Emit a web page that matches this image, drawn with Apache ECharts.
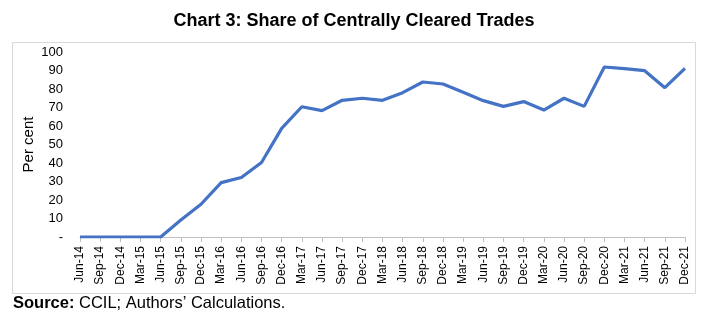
<!DOCTYPE html>
<html>
<head>
<meta charset="utf-8">
<script src="https://cdn.jsdelivr.net/npm/echarts@6/dist/echarts.min.js"></script>
<style>
  html, body { margin: 0; padding: 0; background: #fff; }
  #chart { width: 708px; height: 325px; }
</style>
</head>
<body>
<div id="chart"></div>
<script>
// Quarter-end dates
const quarters = [
  'Jun-14','Sep-14','Dec-14','Mar-15','Jun-15','Sep-15','Dec-15','Mar-16',
  'Jun-16','Sep-16','Dec-16','Mar-17','Jun-17','Sep-17','Dec-17','Mar-18',
  'Jun-18','Sep-18','Dec-18','Mar-19','Jun-19','Sep-19','Dec-19','Mar-20',
  'Jun-20','Sep-20','Dec-20','Mar-21','Jun-21','Sep-21','Dec-21'
];
// Share of centrally cleared trades (per cent)
const clearedShare = [
  0, 0, 0, 0, 0, 9.2, 17.7, 29.4,
  32.2, 40.3, 58.7, 70.4, 68.3, 73.9, 75.0, 73.9,
  78.0, 83.8, 82.7, 78.2, 73.7, 70.6, 73.2, 68.6,
  75.0, 70.6, 91.9, 91.0, 89.9, 80.7, 91.2
];
const yTicks = [0, 10, 20, 30, 40, 50, 60, 70, 80, 90, 100];

const chart = echarts.init(document.getElementById('chart'), null, { renderer: 'canvas' });
const font = 'Liberation Sans, Arial, sans-serif';

chart.setOption({
  animation: false,
  backgroundColor: '#fff',
  title: {
    text: 'Chart 3: Share of Centrally Cleared Trades',
    left: 'center',
    top: 7,
    textStyle: { fontFamily: font, fontSize: 18, fontWeight: 'bold', color: '#000' }
  },
  graphic: [
    {
      type: 'rect',
      shape: { x: 12.5, y: 42.5, width: 683, height: 251 },
      style: { fill: 'none', stroke: '#d9d9d9', lineWidth: 1 },
      z: -1
    },
    {
      type: 'text',
      x: 13,
      y: 295,
      style: {
        text: '{b|Source:} CCIL; Authors\u2019 Calculations.',
        rich: {
          b: { fontFamily: font, fontSize: 16.5, fontWeight: 'bold', fill: '#000' }
        },
        fontFamily: font,
        fontSize: 16.5,
        fill: '#000'
      }
    }
  ],
  grid: { left: 80, right: 23, top: 52, bottom: 88, containLabel: false },
  xAxis: {
    type: 'category',
    data: quarters,
    boundaryGap: false,
    axisLine: { lineStyle: { color: '#bfbfbf', width: 1 } },
    axisTick: { show: true, length: 5, lineStyle: { color: '#bfbfbf' } },
    axisLabel: {
      rotate: 90,
      interval: 0,
      margin: 9,
      fontFamily: font,
      fontSize: 12,
      color: '#000'
    },
    splitLine: { show: false }
  },
  yAxis: {
    type: 'value',
    min: yTicks[0],
    max: yTicks[yTicks.length - 1],
    interval: 10,
    name: 'Per cent',
    nameLocation: 'middle',
    nameGap: 44,
    nameMoveOverlap: false,
    nameRotate: 90,
    nameTextStyle: { fontFamily: font, fontSize: 15, color: '#000' },
    axisLine: { show: false },
    axisTick: { show: false },
    splitLine: { show: false },
    axisLabel: {
      margin: 17,
      fontFamily: font,
      fontSize: 13,
      color: '#000',
      formatter: v => (v === 0 ? '-' : String(v))
    }
  },
  series: [{
    type: 'line',
    data: clearedShare,
    symbol: 'none',
    lineStyle: { color: '#4472C4', width: 3.2 },
    itemStyle: { color: '#4472C4' }
  }]
});
</script>
</body>
</html>
